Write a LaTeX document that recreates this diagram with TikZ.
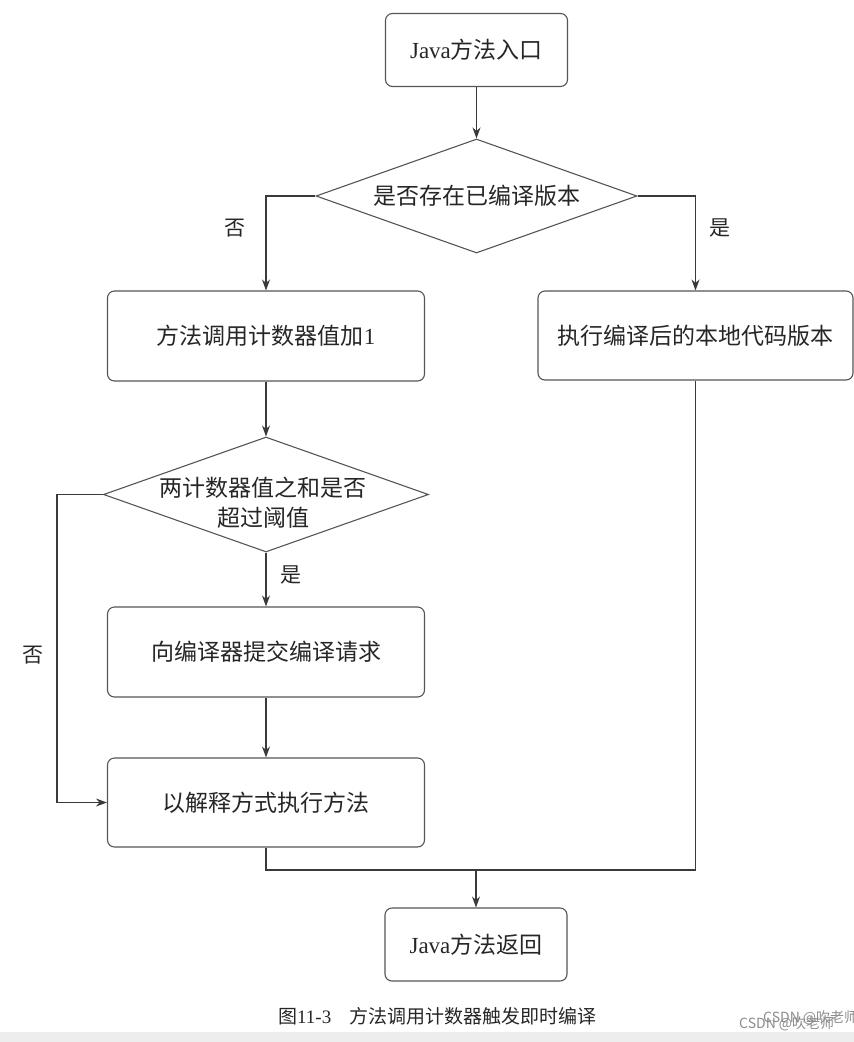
\documentclass[tikz,border=0pt]{standalone}
\usepackage{fontspec}
\setmainfont{Liberation Serif}
\newfontfamily\cjk{Noto Sans CJK SC}
\usetikzlibrary{shapes.geometric,arrows.meta}
\definecolor{linec}{HTML}{3A3A3A}
\definecolor{boxc}{HTML}{555555}
\definecolor{txtc}{HTML}{262626}
\definecolor{wmc}{HTML}{8C8C8C}
\definecolor{bandc}{HTML}{EDEDED}
\begin{document}
\begin{tikzpicture}[x=1pt,y=-1pt,
  procbox/.style={draw=boxc,line width=1.1pt,rounded corners=7pt,minimum width=317pt,minimum height=90pt,inner sep=0pt,text=txtc,font=\fontsize{23}{28}\selectfont\cjk},
  endbox/.style={procbox,minimum width=182pt,minimum height=73pt},
  decision/.style={draw=boxc,line width=1.1pt,diamond,aspect=2.8,inner sep=0pt,text=txtc,font=\fontsize{23}{28}\selectfont\cjk},
  flow/.style={draw=linec,line width=1.1pt,-{Stealth[length=11pt,width=8pt]}},
  link/.style={draw=linec,line width=1.1pt},
  lbl/.style={text=txtc,font=\fontsize{21}{24}\selectfont\cjk,inner sep=0pt},
  capt/.style={text=txtc,font=\fontsize{19}{22}\selectfont\cjk,inner sep=0pt,anchor=west},
  wmark/.style={text=wmc,font=\fontsize{14}{16}\selectfont\cjk,inner sep=0pt,anchor=west}]
\useasboundingbox (0,0) rectangle (854,1042);
\fill[bandc] (0,1032) rectangle (854,1042);

% nodes
\node[endbox] (start) at (476.5,50) {{\rmfamily Java}方法入口};
\node[decision,minimum width=321pt,minimum height=114pt] (d1) at (476.5,196) {是否存在已编译版本};
\node[procbox] (p1) at (266,336) {方法调用计数器值加{\rmfamily 1}};
\node[procbox,minimum width=315pt,minimum height=89pt] (p2) at (695.5,335.5) {执行编译后的本地代码版本};
\node[decision,minimum width=325pt,minimum height=115pt] (d2) at (266,494.5) {};
\node[text=txtc,font=\fontsize{23}{30}\selectfont\cjk,align=center,inner sep=0pt] (d2t) at (263,503) {两计数器值之和是否\\超过阈值};
\node[procbox] (p3) at (266,652) {向编译器提交编译请求};
\node[procbox,minimum height=89pt] (p4) at (266,802.5) {以解释方式执行方法};
\node[endbox] (end) at (476,944.5) {{\rmfamily Java}方法返回};

\coordinate (lft) at (57,494.5);
\coordinate (m) at (476,870);

% connectors
\draw[flow] (start.south) -- (d1.north);
\draw[flow] (d1.west) -| (p1.north);
\draw[flow] (d1.east) -| (p2.north);
\draw[flow] (p1.south) -- (d2.north);
\draw[flow] (d2.south) -- (p3.north);
\draw[flow] (p3.south) -- (p4.north);
\draw[flow] (d2.west) -- (lft) |- (p4.west);
\draw[link] (p4.south) |- (m);
\draw[link] (p2.south) |- (m);
\draw[flow] (m) -- (end.north);

% labels
\node[lbl] (no1) at (235,228) {否};
\node[lbl] (yes1) at (720,228) {是};
\node[lbl] (yes2) at (291,575) {是};
\node[lbl] (no2) at (33,655) {否};

% caption and watermark
\node[capt] (cap) at (278,1016) {图{\rmfamily 11-3}\hspace{18pt}方法调用计数器触发即时编译};
\node[wmark] (wm1) at (739,1024) {CSDN @吹老师};
\node[wmark] (wm2) at (763,1018) {CSDN @吹老师};
\end{tikzpicture}
\end{document}
